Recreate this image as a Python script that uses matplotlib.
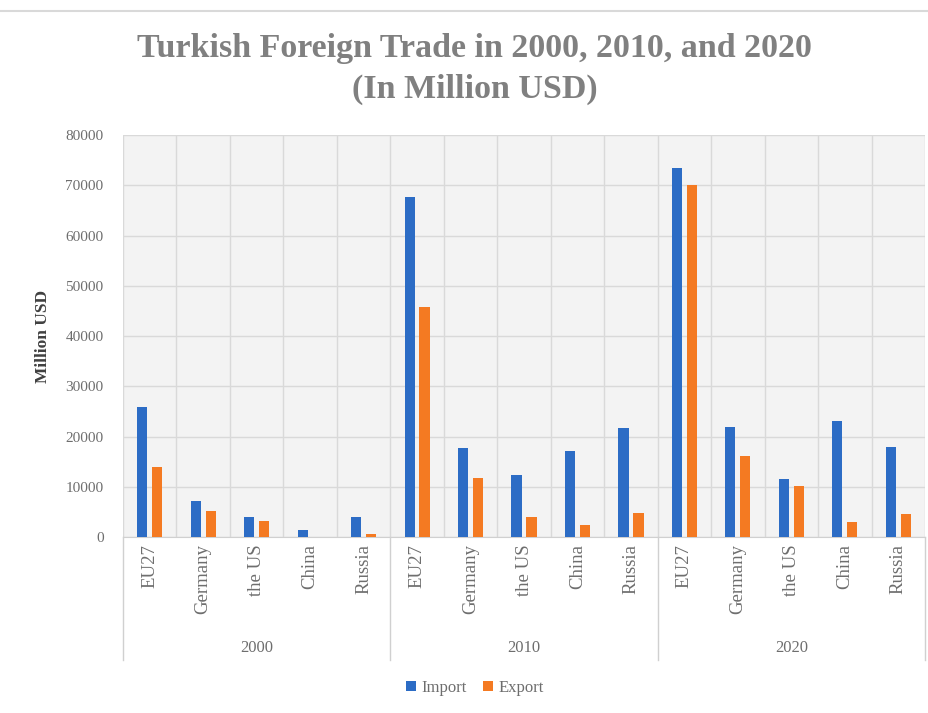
import numpy as np
import matplotlib
matplotlib.use("Agg")
import matplotlib.pyplot as plt
from matplotlib.lines import Line2D

years = ["2000", "2010", "2020"]
partners = ["EU27", "Germany", "the US", "China", "Russia"]

# million USD
imports = [25900, 7200, 4000, 1400, 4000,
           67700, 17700, 12300, 17100, 21700,
           73400, 21800, 11500, 23100, 18000]
exports = [13900, 5200, 3200, 100, 700,
           45800, 11700, 4000, 2400, 4700,
           70000, 16100, 10200, 3000, 4500]

blue = "#2c6cc5"
orange = "#f47a22"
txt = "#6e6e6e"

plt.rcParams["font.family"] = ["Liberation Serif", "DejaVu Serif"]

fig = plt.figure(figsize=(9.29, 7.13), dpi=100)
ax = fig.add_axes([0.1324, 0.2468, 0.8633, 0.5638])
ax.set_facecolor("#f3f3f3")

x = np.arange(len(imports))
w = 0.19
ax.bar(x - 0.14, imports, w, color=blue, label="Import", zorder=3)
ax.bar(x + 0.14, exports, w, color=orange, label="Export", zorder=3)

ax.set_xlim(-0.5, len(x) - 0.5)
ax.set_ylim(0, 80000)
ax.set_yticks(range(0, 80001, 10000))
ax.set_xticks(x)
ax.set_xticklabels(partners * len(years), rotation=90, va="top")
ax.set_xticks(np.arange(-0.5, len(x), 1), minor=True)
ax.tick_params(axis="x", which="both", length=0, pad=5, labelsize=13.5, colors=txt)
ax.tick_params(axis="y", length=0, pad=14, labelsize=11, colors=txt)
ax.grid(axis="y", color="#d9d9d9", lw=1, zorder=0)
ax.grid(axis="x", which="minor", color="#d9d9d9", lw=1, zorder=0)
for s in ["top", "right", "left"]:
    ax.spines[s].set_visible(False)
ax.spines["bottom"].set_color("#d0d0d0")

# group separators and year labels under the axis
for b in [-0.5, 4.5, 9.5, 14.5]:
    ax.add_line(Line2D([b, b], [0, -0.306], transform=ax.get_xaxis_transform(),
                       color="#d0d0d0", lw=1, clip_on=False))
for i, yr in enumerate(years):
    ax.text(i * 5 + 2, -0.276, yr, transform=ax.get_xaxis_transform(),
            ha="center", va="center", fontsize=12, color=txt)

ax.set_ylabel("Million USD", fontsize=12.5, fontweight="bold", color="#404040")
ax.yaxis.set_label_coords(-0.09, 0.5)

fig.text(0.511, 0.903, "Turkish Foreign Trade in 2000, 2010, and 2020\n(In Million USD)",
         ha="center", va="center", fontsize=24.5, fontweight="bold", color="#808080",
         linespacing=1.4)

fig.add_artist(Line2D([0.0, 1.0], [0.985, 0.985], color="#d9d9d9", lw=1.5))

fig.legend(loc="center", bbox_to_anchor=(0.511, 0.035), ncol=2, frameon=False,
           fontsize=12, handlelength=0.6, handleheight=0.6, handletextpad=0.3,
           columnspacing=1.0, labelcolor=txt)

fig.savefig("out.png", dpi=100, facecolor="white")
